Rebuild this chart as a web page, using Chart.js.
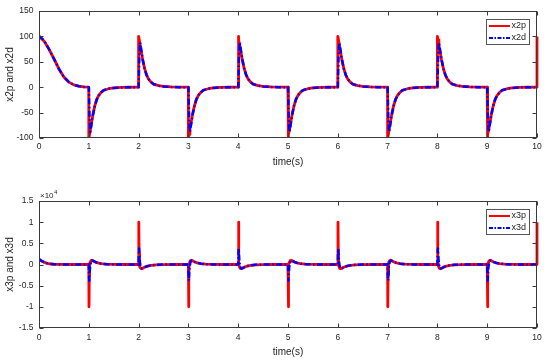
<!DOCTYPE html>
<html><head><meta charset="utf-8">
<script src="https://cdn.jsdelivr.net/npm/chart.js@4.4.1/dist/chart.umd.min.js"></script>
<style>
html,body{margin:0;padding:0;background:#fff;}
#wrap{position:relative;width:550px;height:363px;overflow:hidden;}
canvas{position:absolute;left:0;}
</style></head><body>
<div id="wrap"><canvas id="c1" width="550" height="180" style="top:0"></canvas><canvas id="c2" width="550" height="183" style="top:180px"></canvas></div>
<script>
// ---------- Top subplot data ----------
const t2 = [
  0, 0.1, 0.2, 0.3, 0.4, 0.5, 0.6, 0.7, 0.8, 0.9,
  1, 1, 1.015, 1.03, 1.05, 1.08, 1.12, 1.16, 1.2, 1.25, 1.3, 1.4, 1.5, 1.65, 1.8,
  2, 2, 2.015, 2.03, 2.05, 2.08, 2.12, 2.16, 2.2, 2.25, 2.3, 2.4, 2.5, 2.65, 2.8,
  3, 3, 3.015, 3.03, 3.05, 3.08, 3.12, 3.16, 3.2, 3.25, 3.3, 3.4, 3.5, 3.65, 3.8,
  4, 4, 4.015, 4.03, 4.05, 4.08, 4.12, 4.16, 4.2, 4.25, 4.3, 4.4, 4.5, 4.65, 4.8,
  5, 5, 5.015, 5.03, 5.05, 5.08, 5.12, 5.16, 5.2, 5.25, 5.3, 5.4, 5.5, 5.65, 5.8,
  6, 6, 6.015, 6.03, 6.05, 6.08, 6.12, 6.16, 6.2, 6.25, 6.3, 6.4, 6.5, 6.65, 6.8,
  7, 7, 7.015, 7.03, 7.05, 7.08, 7.12, 7.16, 7.2, 7.25, 7.3, 7.4, 7.5, 7.65, 7.8,
  8, 8, 8.015, 8.03, 8.05, 8.08, 8.12, 8.16, 8.2, 8.25, 8.3, 8.4, 8.5, 8.65, 8.8,
  9, 9, 9.015, 9.03, 9.05, 9.08, 9.12, 9.16, 9.2, 9.25, 9.3, 9.4, 9.5, 9.65, 9.8,
  10, 10
];
const x2p = [
  100, 91, 75, 56, 36, 20, 10, 4.6, 2, 0.6,
  0, -100, -93, -84, -72, -55, -37, -24, -16, -10, -6, -3, -1.5, -0.5, -0.1,
  0, 100, 93, 84, 72, 55, 37, 24, 16, 10, 6, 3, 1.5, 0.5, 0.1,
  0, -100, -93, -84, -72, -55, -37, -24, -16, -10, -6, -3, -1.5, -0.5, -0.1,
  0, 100, 93, 84, 72, 55, 37, 24, 16, 10, 6, 3, 1.5, 0.5, 0.1,
  0, -100, -93, -84, -72, -55, -37, -24, -16, -10, -6, -3, -1.5, -0.5, -0.1,
  0, 100, 93, 84, 72, 55, 37, 24, 16, 10, 6, 3, 1.5, 0.5, 0.1,
  0, -100, -93, -84, -72, -55, -37, -24, -16, -10, -6, -3, -1.5, -0.5, -0.1,
  0, 100, 93, 84, 72, 55, 37, 24, 16, 10, 6, 3, 1.5, 0.5, 0.1,
  0, -100, -93, -84, -72, -55, -37, -24, -16, -10, -6, -3, -1.5, -0.5, -0.1,
  0, 100
];
const x2d = [
  101, 92, 75, 56, 36, 20, 10, 4.6, 2, 0.6,
  0, 0, -60, -88, -76, -56, -37, -24, -16, -10, -6, -3, -1.5, -0.5, -0.1,
  0, 0, 60, 88, 76, 56, 37, 24, 16, 10, 6, 3, 1.5, 0.5, 0.1,
  0, 0, -60, -88, -76, -56, -37, -24, -16, -10, -6, -3, -1.5, -0.5, -0.1,
  0, 0, 60, 88, 76, 56, 37, 24, 16, 10, 6, 3, 1.5, 0.5, 0.1,
  0, 0, -60, -88, -76, -56, -37, -24, -16, -10, -6, -3, -1.5, -0.5, -0.1,
  0, 0, 60, 88, 76, 56, 37, 24, 16, 10, 6, 3, 1.5, 0.5, 0.1,
  0, 0, -60, -88, -76, -56, -37, -24, -16, -10, -6, -3, -1.5, -0.5, -0.1,
  0, 0, 60, 88, 76, 56, 37, 24, 16, 10, 6, 3, 1.5, 0.5, 0.1,
  0, 0, -60, -88, -76, -56, -37, -24, -16, -10, -6, -3, -1.5, -0.5, -0.1,
  0, 0
];

// ---------- Bottom subplot data ----------
const t3 = [
  0, 0.03, 0.06, 0.1, 0.15, 0.2, 0.3, 0.45, 0.7,
  1, 1.004, 1.01, 1.016, 1.025, 1.04, 1.06, 1.09, 1.13, 1.18, 1.25, 1.35, 1.5, 1.7,
  2, 2.004, 2.01, 2.016, 2.025, 2.04, 2.06, 2.09, 2.13, 2.18, 2.25, 2.35, 2.5, 2.7,
  3, 3.004, 3.01, 3.016, 3.025, 3.04, 3.06, 3.09, 3.13, 3.18, 3.25, 3.35, 3.5, 3.7,
  4, 4.004, 4.01, 4.016, 4.025, 4.04, 4.06, 4.09, 4.13, 4.18, 4.25, 4.35, 4.5, 4.7,
  5, 5.004, 5.01, 5.016, 5.025, 5.04, 5.06, 5.09, 5.13, 5.18, 5.25, 5.35, 5.5, 5.7,
  6, 6.004, 6.01, 6.016, 6.025, 6.04, 6.06, 6.09, 6.13, 6.18, 6.25, 6.35, 6.5, 6.7,
  7, 7.004, 7.01, 7.016, 7.025, 7.04, 7.06, 7.09, 7.13, 7.18, 7.25, 7.35, 7.5, 7.7,
  8, 8.004, 8.01, 8.016, 8.025, 8.04, 8.06, 8.09, 8.13, 8.18, 8.25, 8.35, 8.5, 8.7,
  9, 9.004, 9.01, 9.016, 9.025, 9.04, 9.06, 9.09, 9.13, 9.18, 9.25, 9.35, 9.5, 9.7,
  10, 10
];
const x3p = [
  1200, 1000, 800, 550, 330, 180, 60, 10, 0,
  0, -10000, -2500, 0, 500, 900, 1000, 850, 600, 380, 200, 80, 20, 0,
  0, 10000, 2500, 0, -500, -900, -1000, -850, -600, -380, -200, -80, -20, 0,
  0, -10000, -2500, 0, 500, 900, 1000, 850, 600, 380, 200, 80, 20, 0,
  0, 10000, 2500, 0, -500, -900, -1000, -850, -600, -380, -200, -80, -20, 0,
  0, -10000, -2500, 0, 500, 900, 1000, 850, 600, 380, 200, 80, 20, 0,
  0, 10000, 2500, 0, -500, -900, -1000, -850, -600, -380, -200, -80, -20, 0,
  0, -10000, -2500, 0, 500, 900, 1000, 850, 600, 380, 200, 80, 20, 0,
  0, 10000, 2500, 0, -500, -900, -1000, -850, -600, -380, -200, -80, -20, 0,
  0, -10000, -2500, 0, 500, 900, 1000, 850, 600, 380, 200, 80, 20, 0,
  0, 10000
];
const x3d = [
  1300, 1000, 800, 550, 330, 180, 60, 10, 0,
  0, -2500, -3800, -2200, -600, 500, 950, 850, 600, 380, 200, 80, 20, 0,
  0, 2500, 3800, 2200, 600, -500, -950, -850, -600, -380, -200, -80, -20, 0,
  0, -2500, -3800, -2200, -600, 500, 950, 850, 600, 380, 200, 80, 20, 0,
  0, 2500, 3800, 2200, 600, -500, -950, -850, -600, -380, -200, -80, -20, 0,
  0, -2500, -3800, -2200, -600, 500, 950, 850, 600, 380, 200, 80, 20, 0,
  0, 2500, 3800, 2200, 600, -500, -950, -850, -600, -380, -200, -80, -20, 0,
  0, -2500, -3800, -2200, -600, 500, 950, 850, 600, 380, 200, 80, 20, 0,
  0, 2500, 3800, 2200, 600, -500, -950, -850, -600, -380, -200, -80, -20, 0,
  0, -2500, -3800, -2200, -600, 500, 950, 850, 600, 380, 200, 80, 20, 0,
  0, 0
];

// ---------- Axis settings ----------
const xTickValues = [0,1,2,3,4,5,6,7,8,9,10];
const topYTicks = [-100,-50,0,50,100,150];
const botYTicks = [-15000,-10000,-5000,0,5000,10000,15000];
const xTitle = 'time(s)';
const topYTitle = 'x2p and x2d';
const botYTitle = 'x3p and x3d';
const topLegend = ['x2p','x2d'];
const botLegend = ['x3p','x3d'];

const FONT = '"Liberation Sans", Arial, Helvetica, sans-serif';
const TXT = '#262626';
const RED = '#ff0000', BLUE = '#0000ff';
const DASH = [6, 2.5, 1.5, 2.5];

const frameTicks = {
  id: 'frameTicks',
  afterDatasetsDraw(chart, args, o) {
    const {ctx, chartArea: a, scales} = chart;
    ctx.save();
    ctx.strokeStyle = '#3a3a3a';
    ctx.lineWidth = 1;
    const L = Math.round(a.left) + 0.5, R = Math.round(a.right) - 0.5;
    const T = Math.round(a.top) + 0.5, B = Math.round(a.bottom) - 0.5;
    ctx.strokeRect(L, T, R - L, B - T);
    const len = 4;
    ctx.beginPath();
    scales.x.ticks.forEach(tk => {
      const px = Math.round(scales.x.getPixelForValue(tk.value)) + 0.5;
      ctx.moveTo(px, B); ctx.lineTo(px, B - len);
      ctx.moveTo(px, T); ctx.lineTo(px, T + len);
    });
    scales.y.ticks.forEach(tk => {
      const py = Math.round(scales.y.getPixelForValue(tk.value)) + 0.5;
      ctx.moveTo(L, py); ctx.lineTo(L + len, py);
      ctx.moveTo(R, py); ctx.lineTo(R - len, py);
    });
    ctx.stroke();

    // legend box
    const bx = Math.round(a.right) - 50.5, by = Math.round(a.top) + 8.5, bw = 43, bh = 25;
    ctx.fillStyle = '#fff';
    ctx.fillRect(bx, by, bw, bh);
    ctx.strokeStyle = '#555';
    ctx.strokeRect(bx, by, bw, bh);
    const rows = [[o.labels[0], RED, []], [o.labels[1], BLUE, [4, 1.5, 1.5, 1.5]]];
    rows.forEach((r, i) => {
      const y = by + 6.5 + i * 12;
      ctx.strokeStyle = r[1];
      ctx.lineWidth = 2;
      ctx.setLineDash(r[2]);
      ctx.beginPath(); ctx.moveTo(bx + 2.5, y); ctx.lineTo(bx + 23.5, y); ctx.stroke();
      ctx.setLineDash([]);
      ctx.fillStyle = TXT;
      ctx.font = '9px ' + FONT;
      ctx.textBaseline = 'middle';
      ctx.textAlign = 'left';
      ctx.fillText(r[0], bx + 25, y);
    });

    if (o.exponent) {
      ctx.fillStyle = TXT;
      ctx.textBaseline = 'alphabetic';
      ctx.textAlign = 'left';
      ctx.font = '8px ' + FONT;
      const x0 = Math.round(a.left) + 1, y0 = Math.round(a.top) - 3;
      ctx.fillText('\u00d710', x0, y0);
      const w = ctx.measureText('\u00d710').width;
      ctx.font = '6px ' + FONT;
      ctx.fillText(o.exponent, x0 + w + 0.5, y0 - 4);
    }
    ctx.restore();
  }
};

function makeChart(id, time, red, blue, cfg) {
  const toXY = arr => arr.map((v, i) => ({x: time[i], y: v}));
  const clip = {left: 0, top: 0, right: 3, bottom: 0};
  return new Chart(document.getElementById(id), {
    type: 'line',
    data: {
      datasets: [
        {label: cfg.legend[1], data: toXY(blue), borderColor: BLUE, borderWidth: 2.5, borderDash: DASH, pointRadius: 0, tension: 0, order: 0, borderJoinStyle: 'round', clip: clip},
        {label: cfg.legend[0], data: toXY(red), borderColor: RED, borderWidth: 2.8, pointRadius: 0, tension: 0, order: 1, borderJoinStyle: 'round', clip: clip}
      ]
    },
    options: {
      responsive: false,
      animation: false,
      devicePixelRatio: 1,
      layout: {padding: {top: cfg.padTop, right: 13, left: 0, bottom: 0}},
      plugins: {legend: {display: false}, tooltip: {enabled: false}, frameTicks: {labels: cfg.legend, exponent: cfg.exponent}},
      scales: {
        x: {
          type: 'linear', min: 0, max: 10,
          afterBuildTicks: s => { s.ticks = xTickValues.map(v => ({value: v})); },
          afterFit: s => { s.height = cfg.xHeight; },
          grid: {display: false, drawTicks: false},
          border: {display: false},
          ticks: {color: TXT, font: {family: FONT, size: 8.5}, padding: cfg.xTickPad, maxRotation: 0, autoSkip: false},
          title: {display: true, text: xTitle, color: TXT, font: {family: FONT, size: 10}, padding: {top: 0, bottom: cfg.xTitlePad}}
        },
        y: {
          type: 'linear', min: cfg.yTicks[0], max: cfg.yTicks[cfg.yTicks.length - 1],
          afterBuildTicks: s => { s.ticks = cfg.yTicks.map(v => ({value: v})); },
          afterFit: s => { s.width = 39; },
          grid: {display: false, drawTicks: false},
          border: {display: false},
          ticks: {color: TXT, font: {family: FONT, size: 8.5}, padding: 5.5, autoSkip: false, callback: cfg.yFmt},
          title: {display: true, text: cfg.yTitle, color: TXT, font: {family: FONT, size: 10}, padding: {top: 4, bottom: 0}}
        }
      }
    },
    plugins: [frameTicks]
  });
}

makeChart('c1', t2, x2p, x2d, {
  legend: topLegend, yTicks: topYTicks, yTitle: topYTitle, padTop: 11, xHeight: 42, xTickPad: 4, xTitlePad: 12,
  yFmt: v => String(v), exponent: null
});
makeChart('c2', t3, x3p, x3d, {
  legend: botLegend, yTicks: botYTicks, yTitle: botYTitle, padTop: 21, xHeight: 35, xTickPad: 5, xTitlePad: 5,
  yFmt: v => String(Math.round(v / 1000) / 10), exponent: '4'
});
</script>
</body></html>
